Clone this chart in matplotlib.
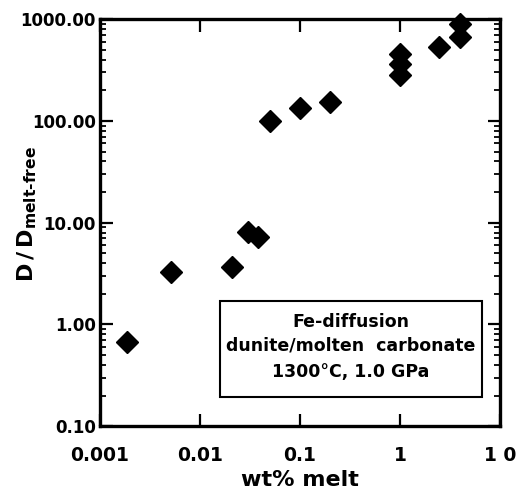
import matplotlib
matplotlib.use("Agg")
import matplotlib.pyplot as plt
from matplotlib.patches import Rectangle
from matplotlib.ticker import FixedLocator, LogLocator, NullLocator

# wt% melt vs D/D_melt-free
wt_melt = [0.00185, 0.0051, 0.021, 0.030, 0.0385, 0.050, 0.10, 0.20,
           1.0, 1.0, 1.0, 2.45, 4.0, 4.0]
d_ratio = [0.67, 3.3, 3.7, 8.1, 7.2, 100, 135, 155,
           450, 360, 285, 527, 893, 670]

x_ticks = [0.001, 0.01, 0.1, 1, 10]
x_ticklabels = ["0.001", "0.01", "0.1", "1", "1 0"]
y_ticks = [0.1, 1, 10, 100, 1000]
y_ticklabels = ["0.10", "1.00", "10.00", "100.00", "1000.00"]

box_lines = ["Fe-diffusion", "dunite/molten  carbonate", "1300°C, 1.0 GPa"]

plt.rcParams["font.family"] = "DejaVu Sans"
plt.rcParams["font.weight"] = "bold"

W, H = 518, 491
fig = plt.figure(figsize=(W / 100, H / 100), dpi=100)
ax = fig.add_axes([0.193, 0.132, 0.772, 0.829])

ax.plot(wt_melt, d_ratio, linestyle="none", marker="D", markersize=11,
        color="black", clip_on=False, zorder=3)

ax.set_xscale("log")
ax.set_yscale("log")
ax.set_xlim(0.001, 10)
ax.set_ylim(0.1, 1000)

ax.xaxis.set_major_locator(FixedLocator(x_ticks))
ax.xaxis.set_minor_locator(NullLocator())
ax.set_xticklabels(x_ticklabels)
ax.yaxis.set_major_locator(FixedLocator(y_ticks))
ax.yaxis.set_minor_locator(LogLocator(base=10, subs=range(2, 10)))
ax.set_yticklabels(y_ticklabels)

for s in ax.spines.values():
    s.set_linewidth(2.4)

ax.tick_params(which="major", direction="in", length=9, width=1.6,
               top=True, right=True, labelsize=12, pad=3)
ax.tick_params(which="minor", direction="in", length=4.5, width=1.3,
               right=True)
ax.tick_params(axis="x", which="major", pad=14, labelsize=13.5)
for lab in ax.get_xticklabels() + ax.get_yticklabels():
    lab.set_fontweight("bold")

ax.set_xlabel("wt% melt", fontsize=16, fontweight="bold", labelpad=4)
# y label placed by hand so it sits left of the wide tick labels
fig.text(27 / W, 1 - 214 / H, r"$\mathbf{D\,/\,D_{melt\text{-}free}}$",
         rotation=90, ha="center", va="center", fontsize=16)

# annotation box
ax.add_patch(Rectangle((0.30, 0.071), 0.655, 0.236, transform=ax.transAxes,
                       fill=False, edgecolor="black", linewidth=1.5, zorder=2))
for line, yy in zip(box_lines, [0.256, 0.199, 0.133]):
    ax.text(0.6275, yy, line, transform=ax.transAxes, ha="center",
            va="center", fontsize=12.5, fontweight="bold")

fig.savefig("out.png", dpi=100)
